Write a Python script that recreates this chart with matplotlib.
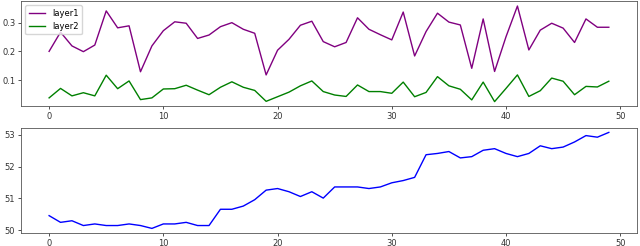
import matplotlib
matplotlib.use("Agg")
import matplotlib.pyplot as plt

x = list(range(50))

layer1 = [0.200, 0.267, 0.219, 0.199, 0.222, 0.341, 0.282, 0.289, 0.129, 0.219,
          0.272, 0.303, 0.298, 0.245, 0.257, 0.286, 0.300, 0.277, 0.263, 0.118,
          0.204, 0.242, 0.291, 0.305, 0.234, 0.216, 0.231, 0.317, 0.277, 0.258,
          0.240, 0.337, 0.184, 0.269, 0.333, 0.302, 0.292, 0.141, 0.313, 0.130,
          0.251, 0.358, 0.205, 0.274, 0.298, 0.281, 0.231, 0.313, 0.284, 0.284]

layer2 = [0.038, 0.071, 0.045, 0.056, 0.045, 0.117, 0.070, 0.097, 0.032, 0.038,
          0.069, 0.070, 0.082, 0.065, 0.049, 0.075, 0.094, 0.075, 0.064, 0.026,
          0.042, 0.058, 0.080, 0.097, 0.060, 0.048, 0.043, 0.083, 0.060, 0.060,
          0.054, 0.093, 0.042, 0.057, 0.112, 0.080, 0.068, 0.031, 0.093, 0.025,
          0.071, 0.118, 0.043, 0.063, 0.107, 0.096, 0.049, 0.078, 0.076, 0.096]

total = [50.46, 50.25, 50.30, 50.15, 50.20, 50.15, 50.15, 50.20, 50.15, 50.06,
         50.20, 50.20, 50.25, 50.15, 50.15, 50.66, 50.66, 50.76, 50.96, 51.26,
         51.31, 51.21, 51.06, 51.21, 51.01, 51.36, 51.36, 51.36, 51.31, 51.36,
         51.49, 51.56, 51.66, 52.37, 52.41, 52.47, 52.27, 52.31, 52.51, 52.56,
         52.41, 52.31, 52.41, 52.65, 52.56, 52.61, 52.77, 52.97, 52.92, 53.07]

plt.rcParams['font.size'] = 6

fig = plt.figure(figsize=(6.4, 2.46), dpi=100)
ax1 = fig.add_axes([0.033, 0.5675, 0.962, 0.4275])
ax2 = fig.add_axes([0.033, 0.052, 0.962, 0.4293])

ax1.plot(x, layer1, color='purple', lw=1.0, label='layer1')
ax1.plot(x, layer2, color='green', lw=1.0, label='layer2')
ax1.set_yticks([0.1, 0.2, 0.3])
ax1.legend(loc='upper left', fontsize=6)

ax2.plot(x, total, color='blue', lw=1.0)
ax2.set_yticks([50, 51, 52, 53])

for ax in (ax1, ax2):
    ax.set_xticks([0, 10, 20, 30, 40, 50])
    ax.tick_params(length=2.2, width=0.6, colors='#333333', pad=2)
    for s in ax.spines.values():
        s.set_linewidth(0.6)
        s.set_color('#555555')

fig.savefig('out.png', dpi=100)
